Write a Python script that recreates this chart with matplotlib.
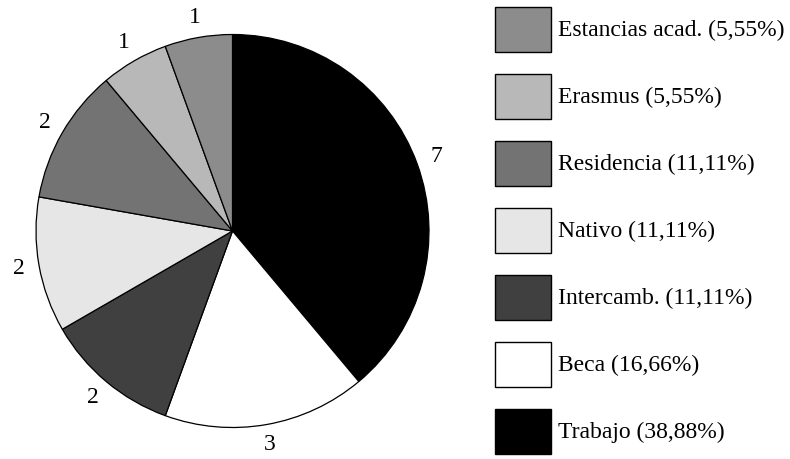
import matplotlib.pyplot as plt
from matplotlib.patches import Rectangle

plt.rcParams['font.family'] = ['Liberation Serif', 'DejaVu Serif']

# slices in drawing order (clockwise from 12 o'clock)
categories = ["Trabajo", "Beca", "Intercamb.", "Nativo", "Residencia", "Erasmus", "Estancias acad."]
counts = [7, 3, 2, 2, 2, 1, 1]
percent_labels = ["38,88%", "16,66%", "11,11%", "11,11%", "11,11%", "5,55%", "5,55%"]
colors = ["#000000", "#ffffff", "#404040", "#e6e6e6", "#737373", "#b8b8b8", "#8c8c8c"]

W, H = 790, 459
fig = plt.figure(figsize=(W / 100, H / 100), dpi=100)

# pie: centre ~(232.5, 231) px from top, radius ~196.5 px
r = 196.5
cx, cy = 232.5, 231
ax = fig.add_axes([(cx - r) / W, (H - cy - r) / H, 2 * r / W, 2 * r / H])
wedges, texts = ax.pie(counts, labels=[str(c) for c in counts], colors=colors,
                       startangle=90, counterclock=False, labeldistance=1.105,
                       wedgeprops=dict(edgecolor="black", linewidth=0.9),
                       textprops=dict(fontsize=17))
for t in texts:
    t.set_ha("center")
    t.set_va("center")
ax.set_xlim(-1, 1)
ax.set_ylim(-1, 1)
ax.set_aspect("equal")
ax.axis("off")

# legend drawn in pixel coordinates, top to bottom reversed
lax = fig.add_axes([0, 0, 1, 1])
lax.set_xlim(0, W)
lax.set_ylim(H, 0)
lax.axis("off")
for i, idx in enumerate(reversed(range(len(categories)))):
    top = 7.3 + 67 * i
    lax.add_patch(Rectangle((494.5, top), 56.5, 45, facecolor=colors[idx],
                            edgecolor="black", linewidth=1.0))
    lax.text(558, top + 23, f"{categories[idx]} ({percent_labels[idx]})",
             fontsize=17, va="center", ha="left")

fig.savefig("out.png", dpi=100)
